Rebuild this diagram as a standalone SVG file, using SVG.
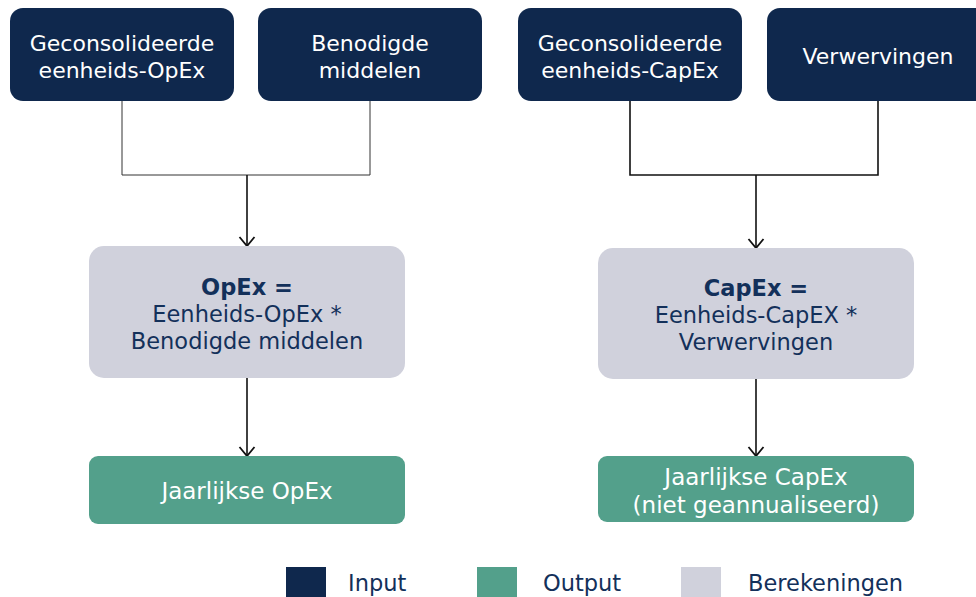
<svg xmlns="http://www.w3.org/2000/svg" width="976" height="597" viewBox="0 0 976 597">
<style>
.inp{fill:#0f284d}
.calc{fill:#d0d1dc}
.out{fill:#53a08b}
text{font-family:"DejaVu Sans","Liberation Sans",sans-serif;font-size:22px;text-anchor:middle}
.w{fill:#ffffff}
.o{font-size:23px}
.d{fill:#13305a;font-size:22.5px}
.b{font-weight:bold}
.leg{text-anchor:start;fill:#13305a;font-size:22.5px}
.c{fill:none;stroke:#111111;stroke-width:1.6}
.ct{fill:none;stroke:#333333;stroke-width:1}
</style>
<defs>
<marker id="arr" markerWidth="18" markerHeight="18" viewBox="0 0 18 18" refX="16" refY="9" orient="auto" markerUnits="userSpaceOnUse">
<path d="M7,1.5 L16,9 L7,16.5" fill="none" stroke="#111111" stroke-width="1.8"/>
</marker>
</defs>
<rect width="976" height="597" fill="#ffffff"/>
<g id="connectors">
<path class="ct" d="M122,101 V175 H370 V101"/>
<path class="c" d="M247,175 V246" marker-end="url(#arr)"/>
<path class="c" d="M630,101 V175 H878 V101"/>
<path class="c" d="M756,175 V248" marker-end="url(#arr)"/>
<path class="c" d="M247,378 V456" marker-end="url(#arr)"/>
<path class="c" d="M756,379 V456" marker-end="url(#arr)"/>
</g>
<g id="n-geo-opex"><rect class="inp" x="10" y="8" width="224" height="93" rx="13"/><text class="w" x="122" y="51">Geconsolideerde</text><text class="w" x="122" y="78">eenheids-OpEx</text></g>
<g id="n-benodigd"><rect class="inp" x="258" y="8" width="224" height="93" rx="13"/><text class="w" x="370" y="51">Benodigde</text><text class="w" x="370" y="78">middelen</text></g>
<g id="n-geo-capex"><rect class="inp" x="518" y="8" width="224" height="93" rx="13"/><text class="w" x="630" y="51">Geconsolideerde</text><text class="w" x="630" y="78">eenheids-CapEx</text></g>
<g id="n-verwervingen"><rect class="inp" x="767" y="8" width="224" height="93" rx="13"/><text class="w" x="878" y="64">Verwervingen</text></g>
<g id="n-calc-opex"><rect class="calc" x="89" y="246" width="316" height="132" rx="15"/><text class="d b" x="247" y="295">OpEx =</text><text class="d" x="247" y="322">Eenheids-OpEx *</text><text class="d" x="247" y="349">Benodigde middelen</text></g>
<g id="n-calc-capex"><rect class="calc" x="598" y="248" width="316" height="131" rx="15"/><text class="d b" x="756" y="296">CapEx =</text><text class="d" x="756" y="323">Eenheids-CapEX *</text><text class="d" x="756" y="350">Verwervingen</text></g>
<g id="n-out-opex"><rect class="out" x="89" y="456" width="316" height="68" rx="9"/><text class="w o" x="247" y="499">Jaarlijkse OpEx</text></g>
<g id="n-out-capex"><rect class="out" x="598" y="456" width="316" height="66" rx="9"/><text class="w o" x="756" y="485">Jaarlijkse CapEx</text><text class="w o" x="756" y="513">(niet geannualiseerd)</text></g>
<g id="legend">
<rect class="inp" x="286" y="567" width="40" height="32"/><text class="leg" x="348" y="591">Input</text>
<rect class="out" x="477" y="567" width="40" height="32"/><text class="leg" x="543" y="591">Output</text>
<rect class="calc" x="681" y="567" width="40" height="32"/><text class="leg" x="748" y="591">Berekeningen</text>
</g>
</svg>
